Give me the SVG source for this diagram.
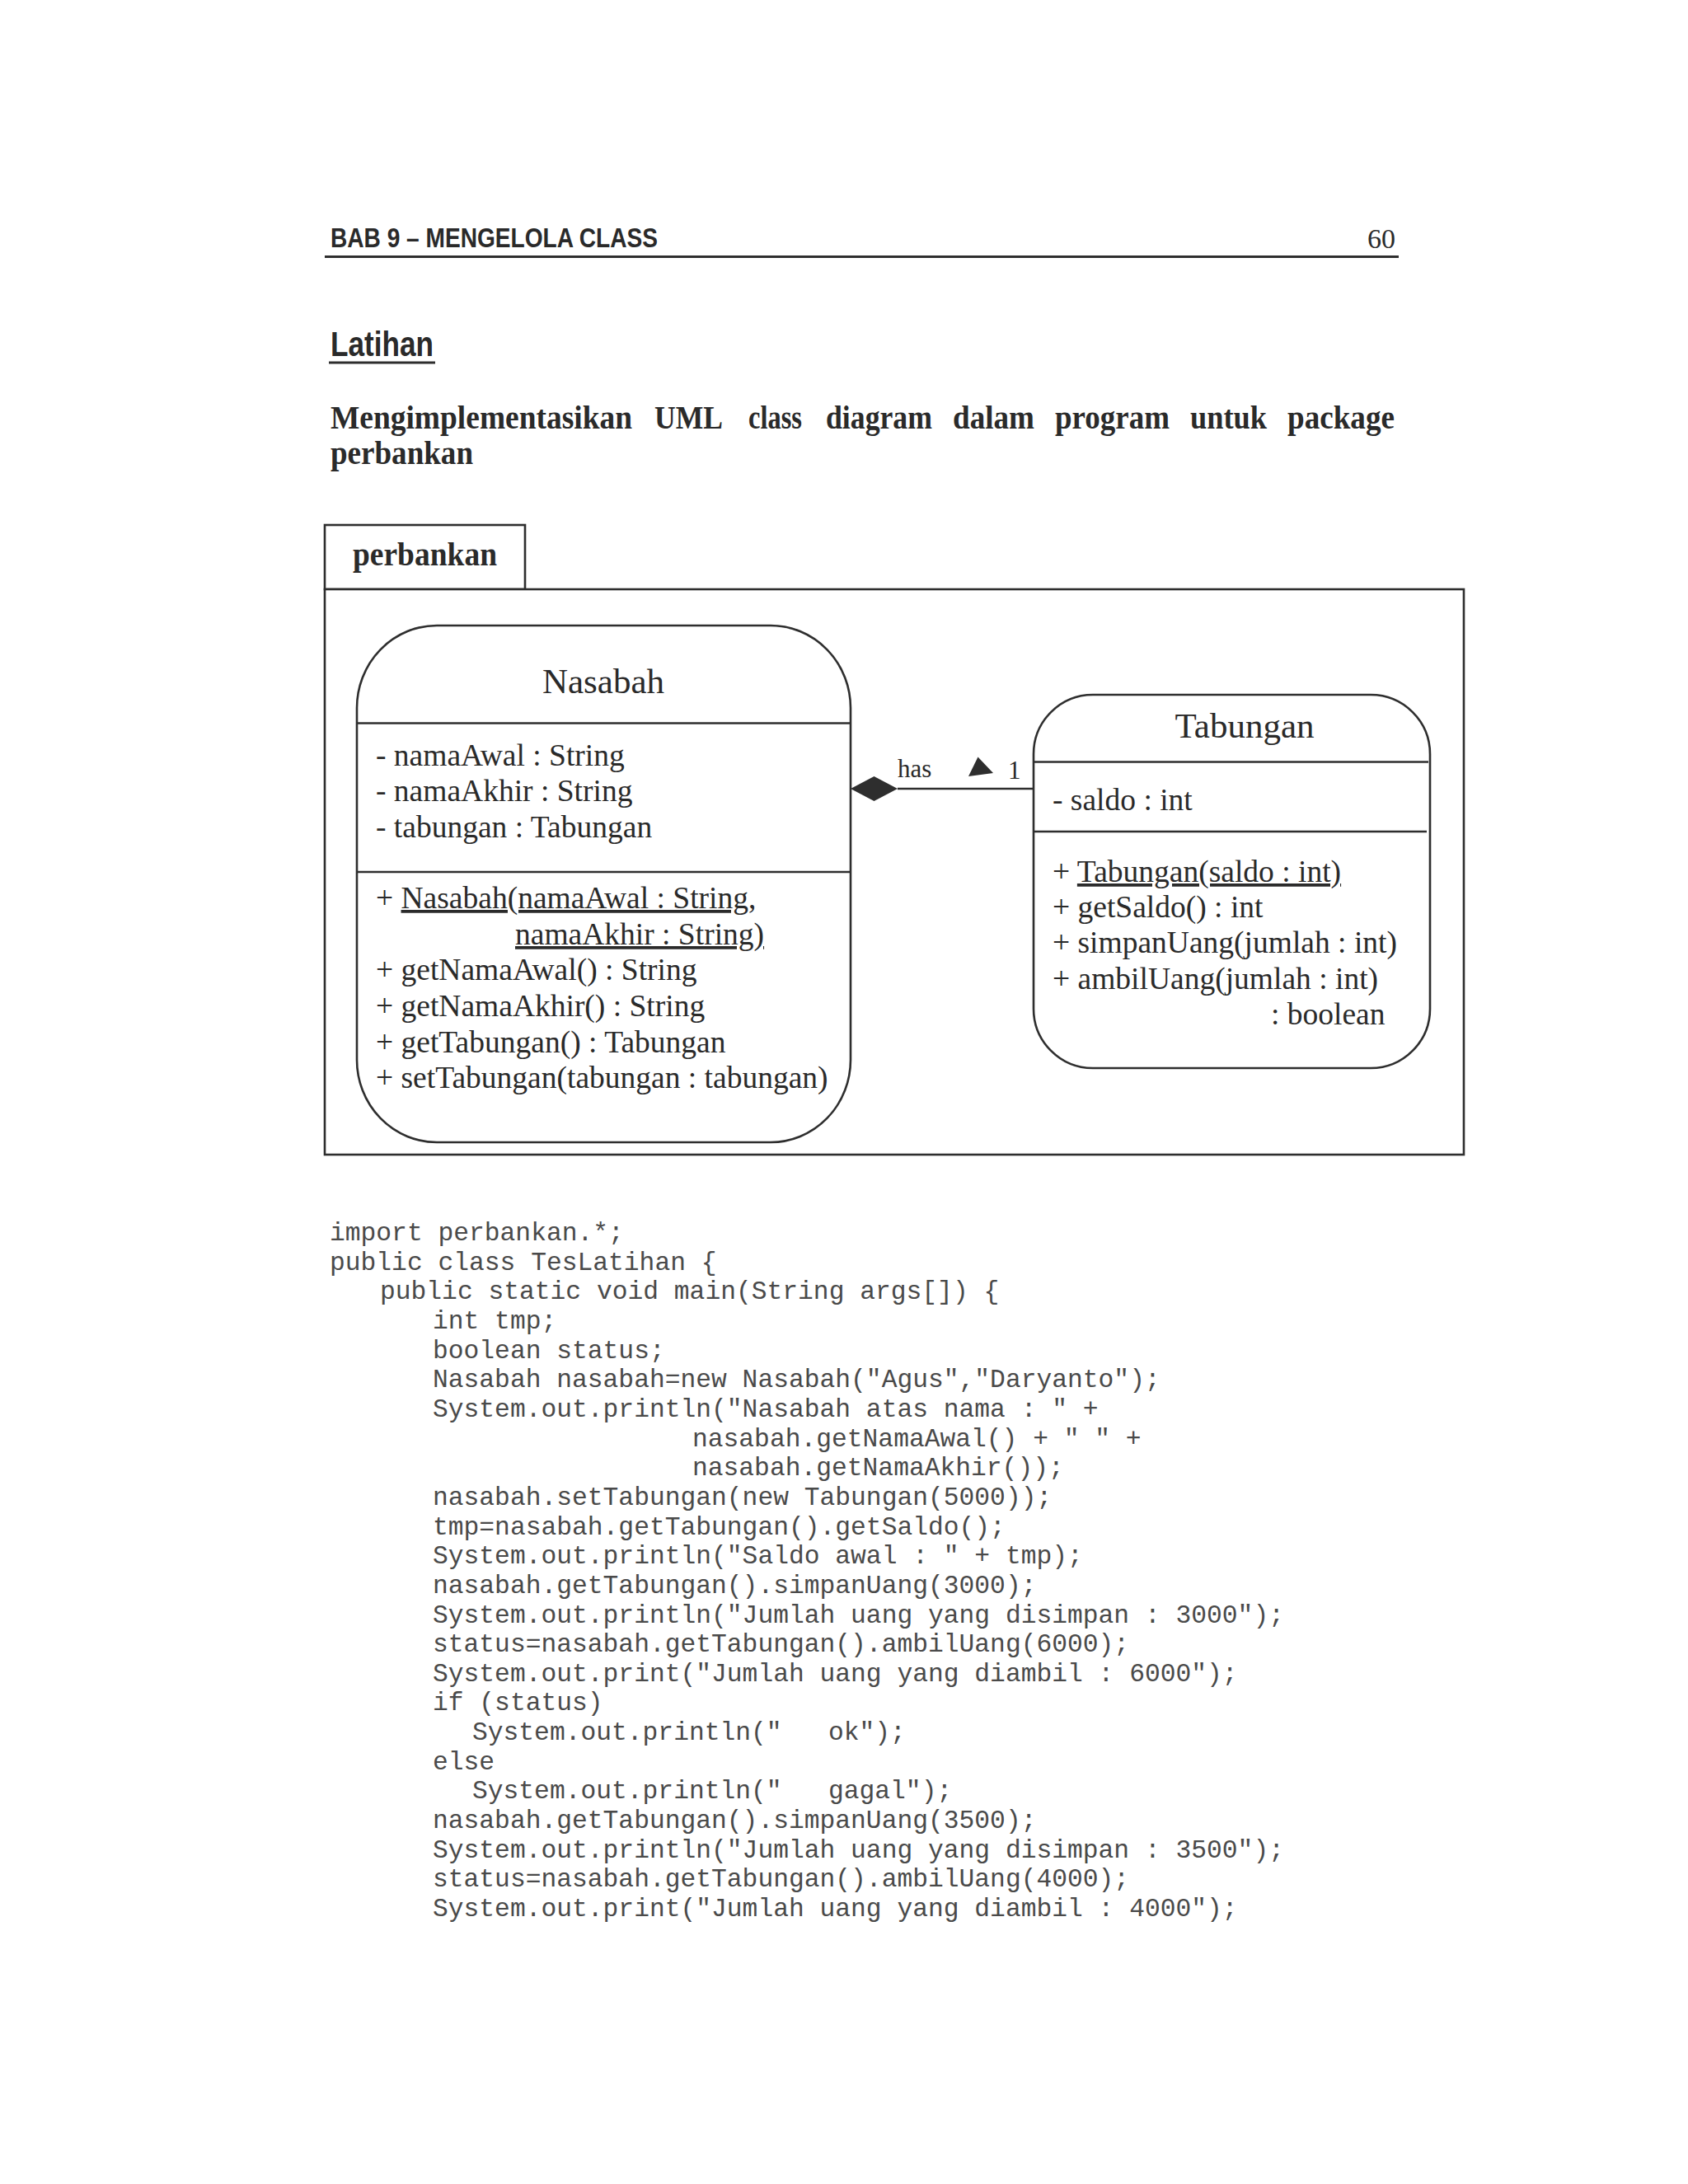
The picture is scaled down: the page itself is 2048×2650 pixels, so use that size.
<svg xmlns="http://www.w3.org/2000/svg" width="2048" height="2650" viewBox="0 0 2048 2650">
<style>
.bg{fill:#ffffff}
.ln{fill:none;stroke:#2e2e2e;stroke-width:2.6}
.box{fill:#ffffff;stroke:#2e2e2e;stroke-width:2.6}
.hdr{font-family:"Liberation Sans Narrow","Liberation Sans",Arial,sans-serif;font-weight:bold;fill:#2a2a2a}
.ser{font-family:"Liberation Serif","Times New Roman",serif;fill:#2a2a2a}
.bold{font-weight:bold}
.title{font-size:43px}
.mem{font-size:37.5px}
.lbl{font-size:31px}
.ul{text-decoration:underline}
.code{font-family:"Liberation Mono","Courier New",monospace;font-size:31.3px;fill:#4a4a4a}
</style>
<rect class="bg" x="0" y="0" width="2048" height="2650"/>

<!-- page header -->
<text class="hdr" x="401" y="300" font-size="33" textLength="397" lengthAdjust="spacingAndGlyphs">BAB 9 – MENGELOLA CLASS</text>
<text class="ser" x="1693" y="301" font-size="34" text-anchor="end">60</text>
<line x1="394" y1="311.5" x2="1697" y2="311.5" stroke="#2e2e2e" stroke-width="3"/>

<text class="hdr" x="401" y="432" font-size="43" textLength="125" lengthAdjust="spacingAndGlyphs">Latihan</text>
<line x1="399" y1="440" x2="528" y2="440" stroke="#2e2e2e" stroke-width="3"/>

<g class="ser bold" font-size="39">
<text x="401" y="520" textLength="366" lengthAdjust="spacingAndGlyphs">Mengimplementasikan</text>
<text x="794" y="520" textLength="83" lengthAdjust="spacingAndGlyphs">UML</text>
<text x="908" y="520" textLength="65" lengthAdjust="spacingAndGlyphs">class</text>
<text x="1002" y="520" textLength="129" lengthAdjust="spacingAndGlyphs">diagram</text>
<text x="1156" y="520" textLength="99" lengthAdjust="spacingAndGlyphs">dalam</text>
<text x="1280" y="520" textLength="139" lengthAdjust="spacingAndGlyphs">program</text>
<text x="1444" y="520" textLength="93" lengthAdjust="spacingAndGlyphs">untuk</text>
<text x="1562" y="520" textLength="130" lengthAdjust="spacingAndGlyphs">package</text>
<text x="401" y="563" textLength="173" lengthAdjust="spacingAndGlyphs">perbankan</text>
</g>

<!-- package -->
<g id="package">
<rect class="box" x="394" y="637" width="243" height="78"/>
<rect class="box" x="394" y="715" width="1382" height="686"/>
<text class="ser bold" x="428" y="686" font-size="39" textLength="175" lengthAdjust="spacingAndGlyphs">perbankan</text>
</g>

<!-- Nasabah class -->
<g id="nasabah">
<rect class="box" x="433" y="759" width="599" height="627" rx="97" ry="100"/>
<line class="ln" x1="433" y1="877.5" x2="1032" y2="877.5"/>
<line class="ln" x1="433" y1="1058" x2="1032" y2="1058"/>
<text class="ser title" x="732" y="841" text-anchor="middle">Nasabah</text>
<g class="ser mem">
<text x="456" y="929">- namaAwal : String</text>
<text x="456" y="972">- namaAkhir : String</text>
<text x="456" y="1016">- tabungan : Tabungan</text>
<text x="456" y="1102">+ <tspan class="ul">Nasabah(namaAwal : String,</tspan></text>
<text x="625" y="1146" class="ul">namaAkhir : String)</text>
<text x="456" y="1189">+ getNamaAwal() : String</text>
<text x="456" y="1233">+ getNamaAkhir() : String</text>
<text x="456" y="1277">+ getTabungan() : Tabungan</text>
<text x="456" y="1320">+ setTabungan(tabungan : tabungan)</text>
</g>
</g>

<!-- Tabungan class -->
<g id="tabungan">
<rect class="box" x="1254" y="843" width="481" height="453" rx="72" ry="72"/>
<line class="ln" x1="1254" y1="924.5" x2="1733" y2="924.5"/>
<line class="ln" x1="1254" y1="1009" x2="1731" y2="1009"/>
<text class="ser title" x="1510" y="895" text-anchor="middle">Tabungan</text>
<g class="ser mem">
<text x="1277" y="983">- saldo : int</text>
<text x="1277" y="1070">+ <tspan class="ul">Tabungan(saldo : int)</tspan></text>
<text x="1277" y="1113">+ getSaldo() : int</text>
<text x="1277" y="1156">+ simpanUang(jumlah : int)</text>
<text x="1277" y="1200">+ ambilUang(jumlah : int)</text>
<text x="1542" y="1243">: boolean</text>
</g>
</g>

<!-- connectors -->
<g id="connectors">
<line class="ln" x1="1089" y1="957" x2="1254" y2="957"/>
<polygon points="1032,957 1060.5,942 1089,957 1060.5,972" fill="#2e2e2e"/>
<polygon points="1175,942 1186.5,918.5 1205,938" fill="#2e2e2e"/>
<text class="ser lbl" x="1089" y="943">has</text>
<text class="ser lbl" x="1223" y="945" font-size="32">1</text>
</g>

<!-- code listing -->
<g class="code">
<text x="400" y="1505">import perbankan.*;</text>
<text x="400" y="1540.6">public class TesLatihan {</text>
<text x="461" y="1576.3">public static void main(String args[]) {</text>
<text x="525" y="1612">int tmp;</text>
<text x="525" y="1647.6">boolean status;</text>
<text x="525" y="1683.3">Nasabah nasabah=new Nasabah("Agus","Daryanto");</text>
<text x="525" y="1718.9">System.out.println("Nasabah atas nama : " +</text>
<text x="840" y="1754.6">nasabah.getNamaAwal() + " " +</text>
<text x="840" y="1790.2">nasabah.getNamaAkhir());</text>
<text x="525" y="1825.9">nasabah.setTabungan(new Tabungan(5000));</text>
<text x="525" y="1861.5">tmp=nasabah.getTabungan().getSaldo();</text>
<text x="525" y="1897.2">System.out.println("Saldo awal : " + tmp);</text>
<text x="525" y="1932.8">nasabah.getTabungan().simpanUang(3000);</text>
<text x="525" y="1968.5">System.out.println("Jumlah uang yang disimpan : 3000");</text>
<text x="525" y="2004.1">status=nasabah.getTabungan().ambilUang(6000);</text>
<text x="525" y="2039.8">System.out.print("Jumlah uang yang diambil : 6000");</text>
<text x="525" y="2075.4">if (status)</text>
<text x="573" y="2111.1">System.out.println("&#160;&#160;&#160;ok");</text>
<text x="525" y="2146.7">else</text>
<text x="573" y="2182.4">System.out.println("&#160;&#160;&#160;gagal");</text>
<text x="525" y="2218">nasabah.getTabungan().simpanUang(3500);</text>
<text x="525" y="2253.7">System.out.println("Jumlah uang yang disimpan : 3500");</text>
<text x="525" y="2289.3">status=nasabah.getTabungan().ambilUang(4000);</text>
<text x="525" y="2325">System.out.print("Jumlah uang yang diambil : 4000");</text>
</g>
</svg>
